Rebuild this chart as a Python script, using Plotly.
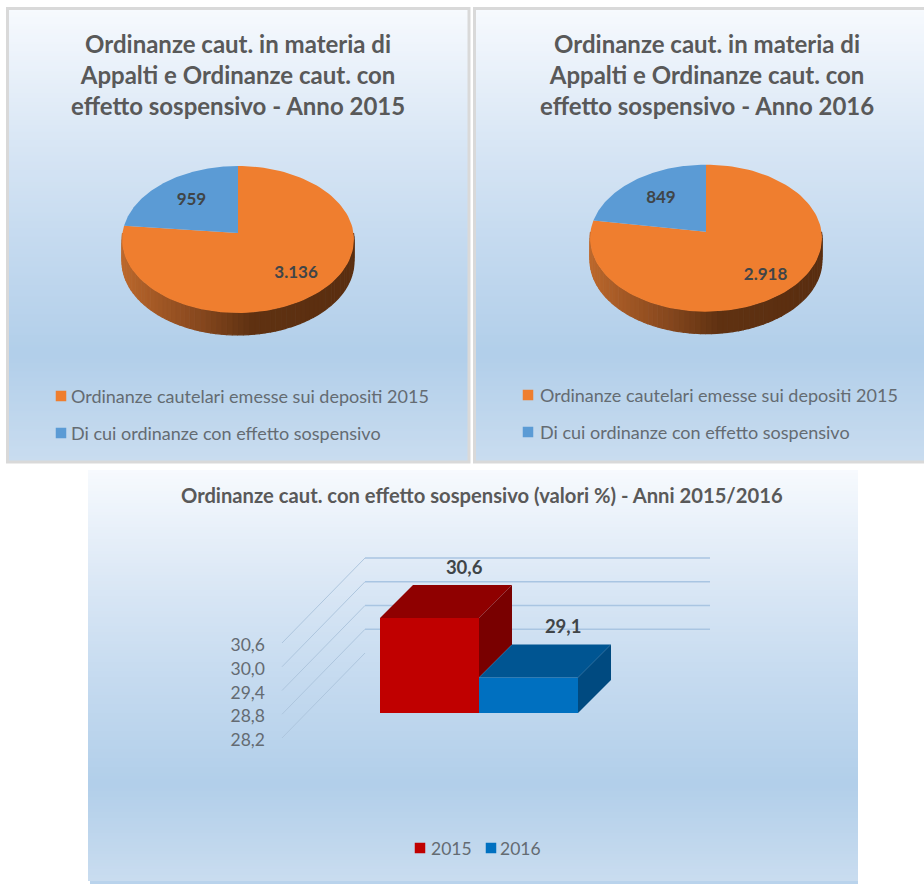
import numpy as np
import plotly.graph_objects as go

# ---------- data ----------
PIE_VALUES_2015 = [3136, 959]
PIE_VALUES_2016 = [2918, 849]
PIE_TEXT_2015 = ["3.136", "959"]
PIE_TEXT_2016 = ["2.918", "849"]
PIE_LEGEND = ["Ordinanze cautelari emesse sui depositi 2015", "Di cui ordinanze con effetto sospensivo"]
BAR_YEARS = ["2015", "2016"]
BAR_VALUES = [30.6, 29.1]
BAR_TEXT = ["30,6", "29,1"]
TICK_VALUES = [28.2, 28.8, 29.4, 30.0, 30.6]
TICK_TEXT = ["28,2", "28,8", "29,4", "30,0", "30,6"]
TITLE_2015 = "Ordinanze caut. in materia di<br>Appalti e Ordinanze caut. con<br>effetto sospensivo - Anno 2015"
TITLE_2016 = "Ordinanze caut. in materia di<br>Appalti e Ordinanze caut. con<br>effetto sospensivo - Anno 2016"
TITLE_BARS = "Ordinanze caut. con effetto sospensivo (valori %) - Anni 2015/2016"

# ---------- style / layout ----------
W, H = 924, 884
ORANGE, BLUE = "#ef7e2f", "#5b9bd5"
TEXT_DARK, TEXT_TITLE, TEXT_LEG = "#404548", "#595959", "#646b72"
FONT = "Lato"
GRAD = [(0, (247, 250, 254)), (0.3, (216, 230, 245)), (0.5, (198, 219, 240)),
        (0.76, (178, 207, 234)), (1, (202, 221, 240))]
SIDE = [(-1, (190, 105, 45)), (-0.3, (135, 72, 30)), (0.1, (96, 50, 18)), (1, (90, 46, 16))]
PIE_A, PIE_B, PIE_K, PIE_DEPTH = 115.5, 72.9, 0.088, 22


def px_x(v):
    return v / W


def px_y(v):
    return 1 - v / H


def ramp(stops, t):
    xs = [s[0] for s in stops]
    return "rgb(%d,%d,%d)" % tuple(np.interp(t, xs, [s[1][i] for s in stops]) for i in range(3))


shapes, annotations = [], []


def panel(x0, y0, x1, y1, border):
    step = 3
    for y in np.arange(y0, y1, step):
        shapes.append(dict(type="rect", xref="paper", yref="paper", layer="below",
                           x0=px_x(x0), x1=px_x(x1), y0=px_y(y), y1=px_y(min(y + step + 0.5, y1)),
                           line_width=0, fillcolor=ramp(GRAD, (y - y0) / (y1 - y0))))
    if border:
        shapes.append(dict(type="rect", xref="paper", yref="paper", layer="below",
                           x0=px_x(x0), x1=px_x(x1), y0=px_y(y0), y1=px_y(y1),
                           line=dict(color="#d9d9d9", width=3)))


def text(x, y, s, size, color, bold=False, anchor="center"):
    annotations.append(dict(xref="paper", yref="paper", x=px_x(x), y=px_y(y), text=s, showarrow=False,
                            xanchor=anchor, yanchor="middle", align="center",
                            font=dict(family=FONT, size=size, color=color, weight=700 if bold else 400)))


panel(7.5, 8.5, 469, 462, True)
panel(474.5, 8.5, 926, 462, True)
panel(88, 470, 858, 881, False)
shapes.append(dict(type="rect", xref="paper", yref="paper", layer="below", x0=px_x(90), x1=px_x(858),
                   y0=px_y(881), y1=px_y(884), line_width=0, fillcolor="#b9d3ec"))

fig = go.Figure()
layout_axes = {}


def add_pie(n, cx, cy, values, labels, title, title_x, leg_x, text_x, leg_y, label_r):
    xn = "x" if n == 1 else f"x{n}"
    yn = "y" if n == 1 else f"y{n}"
    key_x = "xaxis" if n == 1 else f"xaxis{n}"
    key_y = "yaxis" if n == 1 else f"yaxis{n}"
    layout_axes[key_x] = dict(domain=[px_x(cx - 150), px_x(cx + 150)], range=[-150 / PIE_A, 150 / PIE_A],
                              visible=False, anchor=yn, fixedrange=True)
    layout_axes[key_y] = dict(domain=[px_y(cy + 130), px_y(cy - 100)], range=[-130 / PIE_B, 100 / PIE_B],
                              visible=False, anchor=xn, fixedrange=True)

    def proj(t):
        u, v = np.sin(t), np.cos(t)
        return u / (1 + PIE_K * v), v / (1 + PIE_K * v)

    # rim of the pie: one strip per small angle step along the front half
    depth = PIE_DEPTH / PIE_B
    edges = np.linspace(np.pi / 2, np.pi * 1.5, 73)
    for t0, t1 in zip(edges[:-1], edges[1:]):
        tt = np.linspace(t0, t1, 3)
        px_, py_ = proj(tt)
        col = ramp(SIDE, np.sin((t0 + t1) / 2))
        fig.add_trace(go.Scatter(x=np.r_[px_, px_[::-1]], y=np.r_[py_, py_[::-1] - depth], mode="lines",
                                 fill="toself", line=dict(width=1.2, color=col),
                                 fillcolor=col, showlegend=False,
                                 hoverinfo="skip", xaxis=xn, yaxis=yn))
    # the slices, starting at twelve o'clock and running clockwise
    total = sum(values)
    start = 0.0
    for val, col, lab, r, name in zip(values, (ORANGE, BLUE), labels, label_r, PIE_LEGEND):
        sweep = 2 * np.pi * val / total
        tt = np.linspace(start, start + sweep, 120)
        ax, ay = proj(tt)
        fig.add_trace(go.Scatter(x=np.r_[0, ax, 0], y=np.r_[0, ay, 0], mode="lines", fill="toself",
                                 fillcolor=col, line=dict(width=0), name=name, showlegend=False,
                                 hoverinfo="name", xaxis=xn, yaxis=yn))
        mid = start + sweep / 2
        lx, ly = proj(mid)
        fig.add_trace(go.Scatter(x=[lx * r], y=[ly * r], mode="text", text=[lab], showlegend=False,
                                 textfont=dict(family=FONT, size=17, color=TEXT_DARK, weight=700),
                                 hoverinfo="skip", xaxis=xn, yaxis=yn))
        start += sweep
    text(title_x, 74, title, 24, TEXT_TITLE, bold=True)
    for name, col, ypx in zip(PIE_LEGEND, (ORANGE, BLUE), leg_y):
        swatches.append((leg_x, ypx, col))
        text(text_x, ypx, name, 18, TEXT_LEG, anchor="left")


swatches = []
add_pie(1, 238, 233, PIE_VALUES_2015, PIE_TEXT_2015, TITLE_2015, 238, 61, 69, (396, 433), (0.70, 0.64))
add_pie(2, 706, 231.7, PIE_VALUES_2016, PIE_TEXT_2016, TITLE_2016, 707, 528, 538, (395, 432), (0.74, 0.64))

# ---------- 3D columns ----------
BAR_X0 = 429.5          # pixel centre of the first column
BAR_W = 99.0            # column width
BAR_UNIT = 39.58        # pixels per percentage point
FLOOR = TICK_VALUES[0]
TICK_FLOOR_PX, BAR_FLOOR_PX = 738.0, 713.0
DOM_T, DOM_B = 480.0, 800.0
DOM_L, DOM_R = 200.0, 760.0
x_range = [(DOM_L - BAR_X0) / BAR_W, (DOM_R - BAR_X0) / BAR_W]

layout_axes["xaxis3"] = dict(domain=[px_x(DOM_L), px_x(DOM_R)], range=x_range, visible=False,
                             anchor="y3", fixedrange=True)
layout_axes["yaxis3"] = dict(domain=[px_y(DOM_B), px_y(DOM_T)], anchor="free", position=px_x(265),
                             range=[FLOOR - (DOM_B - TICK_FLOOR_PX) / BAR_UNIT, FLOOR + (TICK_FLOOR_PX - DOM_T) / BAR_UNIT],
                             tickvals=TICK_VALUES, ticktext=TICK_TEXT, showgrid=False, zeroline=False,
                             showline=False, ticks="", fixedrange=True, ticklabelshift=2,
                             tickfont=dict(family=FONT, size=17.5, color=TEXT_LEG))
layout_axes["xaxis4"] = dict(domain=[px_x(DOM_L), px_x(DOM_R)], range=x_range, visible=False,
                             anchor="y4", fixedrange=True)
layout_axes["yaxis4"] = dict(domain=[px_y(DOM_B), px_y(DOM_T)], visible=False, anchor="x4", fixedrange=True,
                             range=[FLOOR - (DOM_B - BAR_FLOOR_PX) / BAR_UNIT, FLOOR + (BAR_FLOOR_PX - DOM_T) / BAR_UNIT])

# oblique side wall and back wall gridlines, one per tick
WALL_LEFT, WALL_BEND, WALL_RIGHT = (282 - BAR_X0) / BAR_W, (365 - BAR_X0) / BAR_W, (710 - BAR_X0) / BAR_W
WALL_RISE = 85 / BAR_UNIT
for tv in TICK_VALUES:
    fig.add_trace(go.Scatter(x=[WALL_LEFT, WALL_BEND], y=[tv, tv + WALL_RISE], mode="lines",
                             line=dict(color="#aec6de", width=1), showlegend=False, hoverinfo="skip",
                             xaxis="x3", yaxis="y3"))
    if tv != FLOOR:
        fig.add_trace(go.Scatter(x=[WALL_BEND, WALL_RIGHT], y=[tv + WALL_RISE, tv + WALL_RISE], mode="lines",
                                 line=dict(color="#a9c5e2", width=1.6), showlegend=False, hoverinfo="skip",
                                 xaxis="x3", yaxis="y3"))

FRONT = ["#c00000", "#0070c0"]
TOP = ["#8f0000", "#005592"]
RIGHT = ["#790000", "#004a80"]
DX, DY = 33 / BAR_W, 33 / BAR_UNIT
for i, (year, val, lab) in enumerate(zip(BAR_YEARS, BAR_VALUES, BAR_TEXT)):
    fig.add_trace(go.Bar(x=[i], y=[val - FLOOR], base=FLOOR, width=1, name=year, marker=dict(color=FRONT[i], line_width=0),
                         showlegend=False, xaxis="x4", yaxis="y4"))
    l, r = i - 0.5, i + 0.5
    fig.add_trace(go.Scatter(x=[l, r, r + DX, l + DX, l], y=[val, val, val + DY, val + DY, val], mode="lines",
                             fill="toself", fillcolor=TOP[i], line=dict(width=0), showlegend=False,
                             hoverinfo="skip", xaxis="x4", yaxis="y4"))
    low = BAR_VALUES[i + 1] if i + 1 < len(BAR_VALUES) else FLOOR
    fig.add_trace(go.Scatter(x=[r, r + DX, r + DX, r, r], y=[val, val + DY, low + DY, low, val], mode="lines",
                             fill="toself", fillcolor=RIGHT[i], line=dict(width=0), showlegend=False,
                             hoverinfo="skip", xaxis="x4", yaxis="y4"))
    fig.add_trace(go.Scatter(x=[i + 0.35], y=[val + 49 / BAR_UNIT], mode="text", text=[lab], showlegend=False,
                             textfont=dict(family=FONT, size=18.5, color=TEXT_DARK, weight=700),
                             hoverinfo="skip", xaxis="x4", yaxis="y4"))

text(482, 495, TITLE_BARS, 20.2, TEXT_TITLE, bold=True)
for year, col, sx, tx in zip(BAR_YEARS, FRONT, (420, 491), (429, 498)):
    swatches.append((sx, 848, col))
    text(tx, 848, year, 17.5, TEXT_LEG, anchor="left")

# legend swatches on a page-sized axis pair
layout_axes["xaxis5"] = dict(domain=[0, 1], range=[0, W], visible=False, anchor="y5", fixedrange=True)
layout_axes["yaxis5"] = dict(domain=[0, 1], range=[H, 0], visible=False, anchor="x5", fixedrange=True)
fig.add_trace(go.Scatter(x=[s[0] for s in swatches], y=[s[1] for s in swatches], mode="markers",
                         marker=dict(symbol="square", size=10.5, color=[s[2] for s in swatches], line_width=0),
                         showlegend=False, hoverinfo="skip", xaxis="x5", yaxis="y5"))

fig.update_layout(width=W, height=H, margin=dict(l=0, r=0, t=0, b=0), paper_bgcolor="white",
                  plot_bgcolor="rgba(0,0,0,0)", shapes=shapes, annotations=annotations,
                  showlegend=False, barmode="overlay", font=dict(family=FONT), **layout_axes)
fig.write_html("out.html", config=dict(displayModeBar=False),
               post_script="document.body.style.margin='0';document.body.style.overflow='hidden';")
